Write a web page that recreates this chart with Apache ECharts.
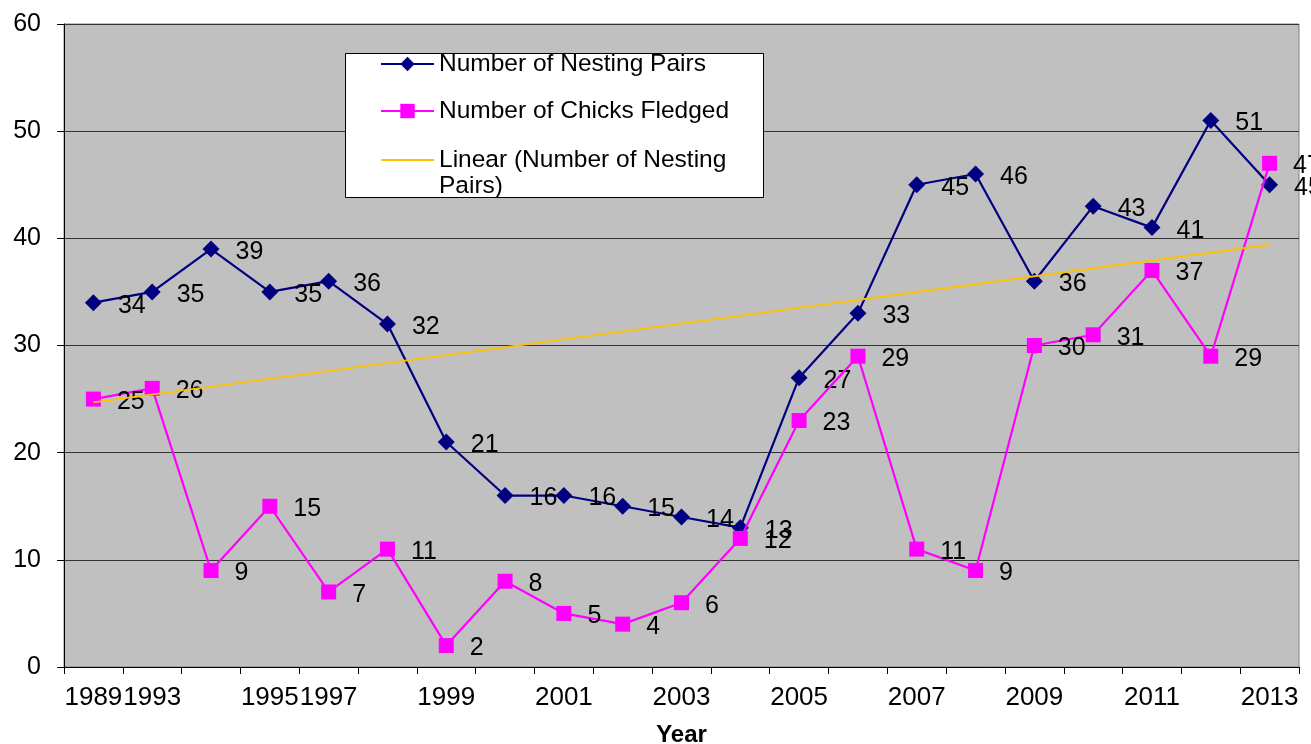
<!DOCTYPE html>
<html>
<head>
<meta charset="utf-8">
<script src="https://cdn.jsdelivr.net/npm/echarts@6/dist/echarts.min.js"></script>
<style>
html,body{margin:0;padding:0;background:#fff;}
#chart{width:1311px;height:744px;}
</style>
</head>
<body>
<div id="chart"></div>
<script>
const years = ['1989','1993','1994','1995','1997','1998','1999','2000','2001','2002','2003','2004','2005','2006','2007','2008','2009','2010','2011','2012','2013'];
const shownYearLabels = ['1989','1993','1995','1997','1999','2001','2003','2005','2007','2009','2011','2013'];
const nestingPairs = [34,35,39,35,36,32,21,16,16,15,14,13,27,33,45,46,36,43,41,51,45];
const chicksFledged = [25,26,9,15,7,11,2,8,5,4,6,12,23,29,11,9,30,31,37,29,47];
// Linear trendline endpoints (first and last year)
const trendStart = 24.7;
const trendEnd = 39.4;
const yTicks = [0,10,20,30,40,50,60];

const FONT = '"Liberation Sans", Arial, sans-serif';
const chart = echarts.init(document.getElementById('chart'));

const labelStyle = {
  show: true, position: 'right', distance: 16, offset: [0, 3],
  color: '#000', fontSize: 25, fontFamily: FONT
};
const legendText = { fontSize: 24.5, lineHeight: 26, color: '#000', fontFamily: FONT };

chart.setOption({
  animation: false,
  backgroundColor: '#ffffff',
  textStyle: { fontFamily: FONT },
  grid: {
    left: 64, right: 12, top: 24, bottom: 77,
    containLabel: false, outerBoundsMode: 'none',
    show: true, backgroundColor: '#C0C0C0', borderColor: '#808080', borderWidth: 1
  },
  graphic: [{
    type: 'rect', left: 345, top: 53, z: 50,
    shape: { width: 418, height: 144 },
    style: { fill: '#ffffff', stroke: '#000000', lineWidth: 1 }
  }],
  legend: [
    {
      data: ['Number of Nesting Pairs'], left: 380, top: 51, padding: 0, z: 60,
      itemWidth: 53, itemHeight: 18,
      textStyle: legendText
    },
    {
      data: ['Number of Chicks Fledged'], left: 380, top: 98, padding: 0, z: 60,
      itemWidth: 53, itemHeight: 18,
      textStyle: legendText
    },
    {
      data: ['Linear (Number of Nesting Pairs)'], left: 380, top: 121, padding: 0, z: 60,
      itemWidth: 53, itemHeight: 18,
      itemStyle: { color: 'rgba(0,0,0,0)', borderWidth: 0, opacity: 0 },
      formatter: function () { return '\nLinear (Number of Nesting\nPairs)'; },
      textStyle: legendText
    }
  ],
  xAxis: {
    type: 'category',
    data: years,
    boundaryGap: true,
    name: 'Year',
    nameLocation: 'middle',
    nameGap: 56,
    nameTextStyle: { fontSize: 24, fontWeight: 'bold', color: '#000', fontFamily: FONT },
    axisLine: { show: true, lineStyle: { color: '#000', width: 1 } },
    axisTick: { show: true, interval: 0, length: 7, lineStyle: { color: '#000' } },
    axisLabel: {
      interval: function (idx, val) { return shownYearLabels.indexOf(val) >= 0; },
      margin: 18, fontSize: 26, color: '#000', fontFamily: FONT
    },
    splitLine: { show: false }
  },
  yAxis: {
    type: 'value',
    min: yTicks[0], max: yTicks[yTicks.length - 1], interval: 10,
    axisLine: { show: true, lineStyle: { color: '#000', width: 1 } },
    axisTick: { show: true, length: 7, lineStyle: { color: '#000' } },
    axisLabel: { margin: 23, fontSize: 25, color: '#000', fontFamily: FONT },
    splitLine: { show: true, lineStyle: { color: '#333333', width: 1.2 } }
  },
  series: [
    {
      name: 'Number of Nesting Pairs',
      type: 'line',
      data: nestingPairs,
      symbol: 'diamond', symbolSize: 17,
      itemStyle: { color: '#000080' },
      lineStyle: { color: '#000080', width: 2.2 },
      label: labelStyle,
      z: 3
    },
    {
      name: 'Number of Chicks Fledged',
      type: 'line',
      data: chicksFledged,
      symbol: 'rect', symbolSize: 15,
      itemStyle: { color: '#FF00FF' },
      lineStyle: { color: '#FF00FF', width: 2.2 },
      label: labelStyle,
      z: 4
    },
    {
      name: 'Linear (Number of Nesting Pairs)',
      type: 'line',
      data: [[years[0], trendStart], [years[years.length - 1], trendEnd]],
      symbol: 'none',
      itemStyle: { color: '#FFC000' },
      lineStyle: { color: '#FFC000', width: 1.8 },
      z: 5
    }
  ]
});
</script>
</body>
</html>
